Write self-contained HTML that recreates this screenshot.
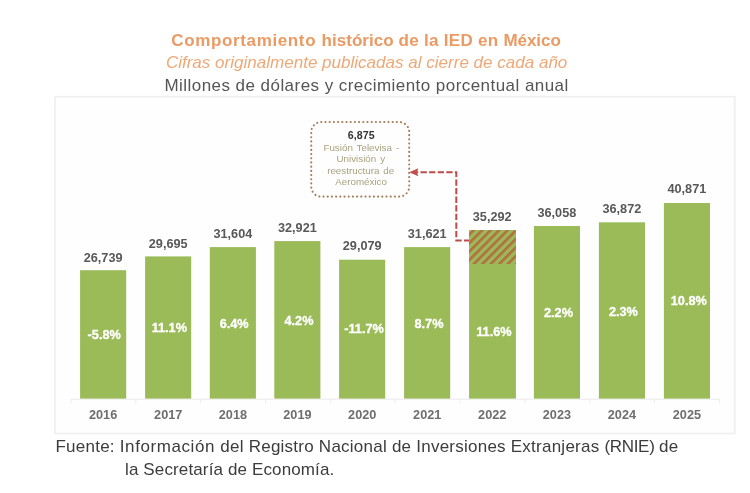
<!DOCTYPE html>
<html lang="es">
<head>
<meta charset="utf-8">
<title>Comportamiento histórico de la IED en México</title>
<style>
html,body{margin:0;padding:0;background:#fff;}
body{width:750px;height:493px;position:relative;overflow:hidden;font-family:"Liberation Sans",sans-serif;}
.t{position:absolute;left:0;width:750px;text-align:center;white-space:nowrap;font-size:17px;line-height:20px;}
#t1{top:30.8px;font-weight:bold;color:#ea9a62;letter-spacing:0.3px;left:-9.0px;}
#t2{top:53.3px;font-style:italic;color:#eea878;letter-spacing:0.015px;left:-8.4px;}
#t3{top:75.7px;color:#555;letter-spacing:0.45px;left:-8.4px;}
#chart{position:absolute;left:0;top:0;}
#chart text{font-family:"Liberation Sans",sans-serif;}
.val,.pct,.yr{font-weight:bold;font-size:12.7px;text-anchor:middle;}
.val{fill:#585858;}
.pct{fill:#fff;stroke:#fff;stroke-width:0.3px;}
.yr{fill:#6e6e6e;}
.c1{font-weight:bold;font-size:10.6px;text-anchor:middle;fill:#333;letter-spacing:0.1px;}
.c2{font-size:9.8px;text-anchor:middle;fill:#a9a27e;word-spacing:1.2px;}
.f{position:absolute;white-space:nowrap;font-size:17px;line-height:20px;color:#3c3c3c;}
#f1{left:55.5px;top:436.5px;letter-spacing:0.24px;}
#f2{left:125px;top:460px;letter-spacing:0.13px;}
</style>
</head>
<body>
<div class="t" id="t1"><span style="letter-spacing:0.64px">Comportamiento </span><span style="letter-spacing:0.04px">histórico </span>de la IED en <span style="letter-spacing:-0.06px">México</span></div>
<div class="t" id="t2">Cifras originalmente publicadas al cierre de cada año</div>
<div class="t" id="t3">Millones de dólares y crecimiento porcentual anual</div>
<svg id="chart" width="750" height="493" viewBox="0 0 750 493">
<defs>
<pattern id="hatch" width="6" height="6" patternUnits="userSpaceOnUse" patternTransform="translate(-2.3 0) rotate(-45)">
<rect x="0" y="0" width="6" height="6" fill="#9bbb59"/>
<rect x="0" y="0" width="6" height="2.7" fill="#b27040"/>
</pattern>
</defs>
<rect x="54.9" y="96.7" width="679.9" height="336.8" fill="#fefefe" stroke="#f0f0f0" stroke-width="1.8"/>
<path d="M71 399.2 H719.5" stroke="#eaeaea" stroke-width="1" fill="none"/>
<path d="M71.0 399 v4.5 M135.8 399 v4.5 M200.7 399 v4.5 M265.5 399 v4.5 M330.4 399 v4.5 M395.2 399 v4.5 M460.1 399 v4.5 M524.9 399 v4.5 M589.8 399 v4.5 M654.6 399 v4.5 M719.5 399 v4.5 " stroke="#ededed" stroke-width="1" fill="none"/>
<rect x="80.1" y="270.2" width="46.1" height="128.4" fill="#9bbb59"/>
<text class="val" x="103.1" y="261.8">26,739</text>
<text class="pct" x="104.2" y="339.4">-5.8%</text>
<text class="yr" x="103.1" y="418.6">2016</text>
<rect x="145.1" y="256.4" width="46.1" height="142.2" fill="#9bbb59"/>
<text class="val" x="168.2" y="247.6">29,695</text>
<text class="pct" x="169.3" y="332.1">11.1%</text>
<text class="yr" x="168.2" y="418.6">2017</text>
<rect x="209.8" y="247.1" width="46.1" height="151.5" fill="#9bbb59"/>
<text class="val" x="232.9" y="237.9">31,604</text>
<text class="pct" x="234.1" y="327.6">6.4%</text>
<text class="yr" x="232.9" y="418.6">2018</text>
<rect x="274.3" y="241.1" width="46.1" height="157.5" fill="#9bbb59"/>
<text class="val" x="297.4" y="232.4">32,921</text>
<text class="pct" x="299.0" y="325.1">4.2%</text>
<text class="yr" x="297.4" y="418.6">2019</text>
<rect x="339.1" y="259.7" width="46.1" height="138.9" fill="#9bbb59"/>
<text class="val" x="362.2" y="249.9">29,079</text>
<text class="pct" x="364.0" y="333.2">-11.7%</text>
<text class="yr" x="362.2" y="418.6">2020</text>
<rect x="404.1" y="247.1" width="46.1" height="151.5" fill="#9bbb59"/>
<text class="val" x="427.2" y="238.0">31,621</text>
<text class="pct" x="429.0" y="327.6">8.7%</text>
<text class="yr" x="427.2" y="418.6">2021</text>
<rect x="469.1" y="230.1" width="46.8" height="168.5" fill="#9bbb59"/>
<rect x="469.1" y="230.1" width="46.8" height="33.9" fill="url(#hatch)"/>
<text class="val" x="492.2" y="220.7">35,292</text>
<text class="pct" x="493.9" y="335.8">11.6%</text>
<text class="yr" x="492.2" y="418.6">2022</text>
<rect x="533.9" y="226.0" width="46.1" height="172.6" fill="#9bbb59"/>
<text class="val" x="556.9" y="217.2">36,058</text>
<text class="pct" x="558.5" y="317.0">2.2%</text>
<text class="yr" x="556.9" y="418.6">2023</text>
<rect x="598.9" y="222.3" width="46.1" height="176.3" fill="#9bbb59"/>
<text class="val" x="621.9" y="213.4">36,872</text>
<text class="pct" x="623.4" y="315.8">2.3%</text>
<text class="yr" x="621.9" y="418.6">2024</text>
<rect x="663.9" y="203.0" width="46.1" height="195.6" fill="#9bbb59"/>
<text class="val" x="686.9" y="193.4">40,871</text>
<text class="pct" x="688.8" y="305.3">10.8%</text>
<text class="yr" x="686.9" y="418.6">2025</text>
<rect x="311.25" y="122" width="97.95" height="74.6" rx="10" ry="10" fill="none" stroke="#a57e5a" stroke-width="2.1" stroke-dasharray="0.1 4.1" stroke-linecap="round"/>
<text class="c1" x="361.2" y="139.1">6,875</text>
<text class="c2" x="361.3" y="151.3">Fusión Televisa -</text>
<text class="c2" x="360.8" y="162.2">Univisión y</text>
<text class="c2" x="360.7" y="173.6">reestructura de</text>
<text class="c2" x="361.1" y="184.9">Aeroméxico</text>
<path d="M411.9 172.2 H456.3 V240.5 H469.2" fill="none" stroke="#be4b49" stroke-width="2" stroke-dasharray="6.3 2.3"/>
<path d="M409.2 172.2 L418.3 168.2 L417 172.2 L418.3 176.2 Z" fill="#c0504d"/>
</svg>
<div class="f" id="f1">Fuente: <span style="letter-spacing:0.58px">Información </span>del Registro Nacional de Inversiones Extranjeras <span style="letter-spacing:-0.3px">(RNIE) </span>de</div>
<div class="f" id="f2">la Secretaría de Economía.</div>
</body>
</html>
